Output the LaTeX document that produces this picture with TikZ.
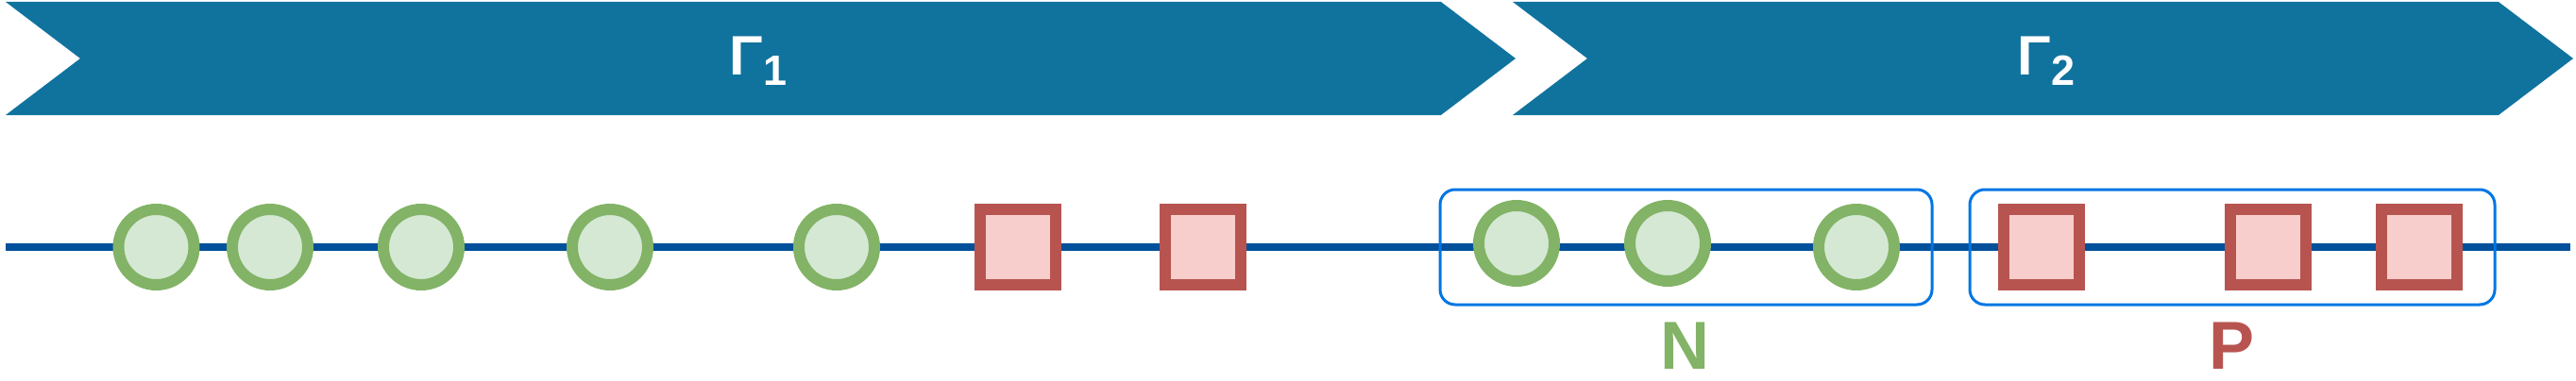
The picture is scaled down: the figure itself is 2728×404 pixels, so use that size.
\documentclass[tikz,border=0pt]{standalone}
\usepackage{fontspec}
\setmainfont{Liberation Sans}
\definecolor{chev}{RGB}{16,115,158}
\definecolor{axis}{RGB}{0,80,155}
\definecolor{gstroke}{HTML}{82B366}
\definecolor{gfill}{HTML}{D5E8D4}
\definecolor{rstroke}{HTML}{B85450}
\definecolor{rfill}{HTML}{F8CECC}
\definecolor{grp}{RGB}{0,118,226}
\begin{document}
\begin{tikzpicture}[x=1pt,y=-1pt,
  gcirc/.style={circle,draw=gstroke,fill=gfill,line width=12pt,minimum size=80pt,inner sep=0pt},
  rsq/.style={rectangle,draw=rstroke,fill=rfill,line width=12pt,minimum size=80pt,inner sep=0pt},
  grpbox/.style={draw=grp,line width=3pt,rounded corners=16pt},
  chevron/.style={fill=chev,draw=none},
  titlelbl/.style={text=white,font=\bfseries\fontsize{59}{59}\selectfont,inner sep=0pt,anchor=base},
  setlbl/.style={font=\bfseries\fontsize{72}{72}\selectfont,inner sep=0pt,anchor=base}]
\useasboundingbox (0,0) rectangle (2728,404);
% chevrons
\fill[chevron] (6,2) -- (1526,2) -- (1605,62) -- (1526,122) -- (6,122) -- (85,62) -- cycle;
\fill[chevron] (1602,2) -- (2646,2) -- (2725,62) -- (2646,122) -- (1602,122) -- (1681,62) -- cycle;
\node[titlelbl] (g1) at (803,80) {Γ\raisebox{-11pt}{\fontsize{45}{45}\selectfont 1}};
\node[titlelbl] (g2) at (2167,80) {Γ\raisebox{-11pt}{\fontsize{45}{45}\selectfont 2}};
% axis
\coordinate (as) at (6,262);
\coordinate (ae) at (2722,262);
\draw[axis,line width=7.5pt] (as) -- (ae);
% group boxes
\draw[grpbox] (1525,201) rectangle (2046,323);
\draw[grpbox] (2086,201) rectangle (2642,323);
% nodes
\node[gcirc] (c1) at (165.5,262) {};
\node[gcirc] (c2) at (286,262) {};
\node[gcirc] (c3) at (446,262) {};
\node[gcirc] (c4) at (646,262) {};
\node[gcirc] (c5) at (886,262) {};
\node[rsq] (s1) at (1078,262) {};
\node[rsq] (s2) at (1274,262) {};
\node[gcirc] (n1) at (1606,258) {};
\node[gcirc] (n2) at (1766,258) {};
\node[gcirc] (n3) at (1966,262) {};
\node[rsq] (p1) at (2162,262) {};
\node[rsq] (p2) at (2402,262) {};
\node[rsq] (p3) at (2562,262) {};
% set labels
\node[setlbl,text=gstroke] (nl) at (1784,391) {N};
\node[setlbl,text=rstroke] (pl) at (2363,391) {P};
\end{tikzpicture}
\end{document}
